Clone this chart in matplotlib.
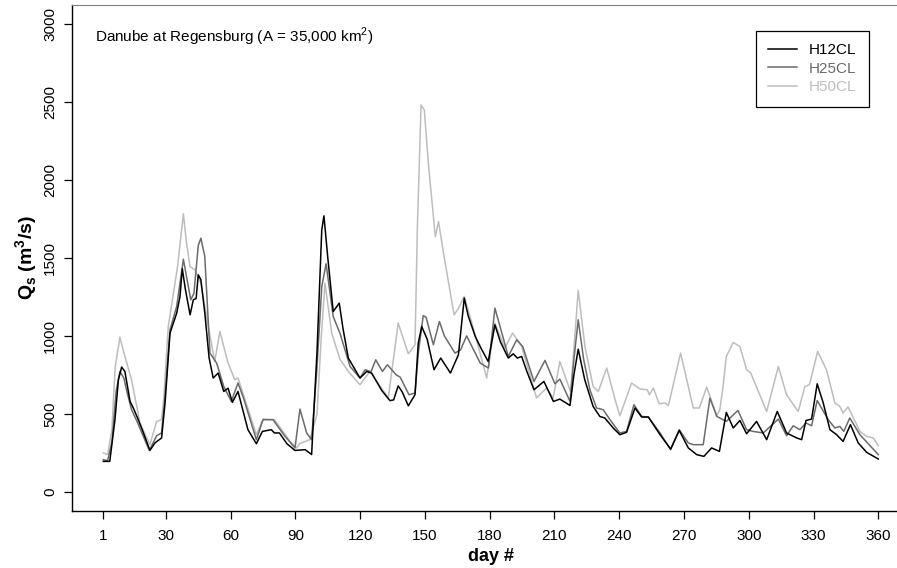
"""
Daily discharge at Danube / Regensburg for three model runs.
"""

import matplotlib

matplotlib.use("Agg")
import matplotlib.pyplot as plt

# -----------------------------
# Data
# -----------------------------
h12_day = [1, 4, 6.4, 8, 9.5, 11, 13.4, 14.9, 17, 19, 22.6, 24.9, 28, 29.6, 31.9, 35, 36.5,
           37.6, 39, 41.2, 42.7, 44, 45, 46.2, 48, 50, 51.9, 54.2, 56.8, 58.8, 60.8, 63.4, 68,
           71.9, 74.7, 78.8, 80.3, 82.6, 86, 89.8, 94.5, 97.5, 100, 102.2, 103.2, 105, 107.5,
           110.3, 112, 114.5, 119.9, 123, 125.3, 130, 133.8, 135.5, 137.6, 139.5, 142.3, 145.4,
           146.9, 148.5, 151, 154.2, 157.3, 161.8, 165.5, 168.2, 170, 173.3, 176, 179.3, 182.4,
           185, 188.6, 190.9, 192.8, 194.8, 197, 200.5, 205.1, 209.5, 212.5, 217.2, 219, 221, 224,
           227.9, 231, 233.3, 237.2, 240.3, 243.4, 247.3, 250.4, 253.5, 258.9, 263.8, 267.8, 272,
           275.9, 279.2, 282.8, 286.4, 289.6, 292.8, 295.9, 299, 303.6, 308.3, 313.2, 317.5, 322.2,
           324.5, 326.5, 329.1, 331.7, 334.5, 337.6, 340.7, 343.7, 347.1, 350.7, 354.6, 360]
h12_q = [196, 196, 463, 719, 800, 772, 580, 538, 470, 400, 266, 314, 346, 570, 1018, 1146, 1250,
         1430, 1300, 1135, 1231, 1240, 1391, 1360, 1150, 860, 730, 762, 644, 665, 574, 644, 399,
         309, 388, 399, 378, 378, 310, 266, 271, 240, 900, 1679, 1769, 1500, 1156, 1210, 1050,
         858, 730, 772, 762, 650, 585, 590, 680, 640, 552, 623, 954, 1060, 980, 783, 858, 762, 879,
         1242, 1130, 996, 920, 836, 1071, 960, 858, 885, 858, 868, 780, 655, 708, 580, 595, 554,
         750, 915, 720, 548, 484, 474, 410, 367, 382, 538, 480, 480, 367, 275, 394, 282, 239, 228,
         282, 260, 510, 410, 458, 373, 452, 335, 516, 378, 346, 335, 458, 467, 693, 570, 399, 367,
         324, 431, 314, 254, 211]

h25_day = [1, 3, 5, 7, 8.7, 10.5, 12, 14.1, 17, 22.3, 25.7, 28, 29.5, 31.9, 35, 38.1, 41.5, 43,
           45, 46.2, 48, 50.4, 53.5, 56.8, 60.3, 63.4, 66, 71.9, 75, 79.6, 85, 89.8, 92.1, 95.2,
           97.5, 100, 102.2, 104.2, 107.5, 110.6, 115.3, 119.9, 122.3, 125, 127.2, 130.3, 132.6,
           136.6, 138.5, 142.6, 145.4, 147, 149.2, 150.5, 153.9, 156.7, 159, 163.9, 166.5, 169.3,
           175.6, 179.4, 182.4, 185, 188.6, 192.5, 195.3, 200.5, 205.6, 210.2, 212.5, 217.2, 219,
           221, 223.5, 226.4, 229.5, 232.6, 235.7, 240.3, 243.4, 246.8, 250.4, 253.5, 258.9,
           263.8, 267.8, 272, 274.3, 278.9, 282, 285.2, 289.6, 295, 299, 302, 306.7, 313.7, 317.5,
           320.6, 323.7, 326.5, 329.1, 331.7, 336.8, 339.9, 342.2, 344, 346.8, 351.5, 360]
h25_q = [207, 200, 320, 650, 772, 730, 640, 527, 440, 266, 360, 378, 600, 1039, 1189, 1491, 1231,
         1274, 1580, 1626, 1510, 890, 826, 676, 580, 698, 600, 335, 463, 463, 360, 282, 531, 378,
         335, 800, 1316, 1462, 1124, 1018, 804, 730, 783, 770, 847, 772, 815, 751, 736, 623, 634,
         900, 1130, 1120, 943, 1092, 1000, 890, 910, 1000, 826, 794, 1178, 1050, 868, 975, 932,
         708, 843, 693, 723, 580, 850, 1103, 850, 655, 538, 527, 463, 378, 388, 559, 484, 480, 378,
         271, 399, 314, 303, 303, 601, 484, 452, 522, 399, 388, 378, 467, 360, 424, 399, 442, 424,
         586, 463, 410, 420, 388, 474, 367, 239]

h50_day = [1, 3, 5, 6.5, 8.7, 10, 11.9, 14.1, 18, 22.6, 25.7, 28, 29, 31.1, 35.4, 38.1, 39.5,
           41.2, 43.5, 46.2, 48.8, 52.6, 55, 58.8, 61.9, 63.4, 66, 71.9, 75, 80.3, 87.5, 90.6, 92,
           96.7, 100, 102, 103.7, 106.8, 110.6, 114.5, 119.9, 124.5, 133, 137.6, 142.3, 145.4,
           146.5, 148.2, 149.7, 151.7, 154.8, 156.3, 158.6, 163.5, 165.6, 168.2, 172.4, 178.6,
           182.4, 187, 190.6, 194.8, 201.7, 206.3, 209.4, 212.5, 217.5, 221, 224.1, 227.9, 230.3,
           234.2, 238.1, 240.3, 245.7, 249.6, 253, 254, 255.8, 258.5, 261.3, 262.8, 268.4, 274.3,
           277.1, 280.5, 285.2, 286.6, 288.1, 289.6, 292.8, 295.9, 299, 300.9, 308.3, 313.7, 317.5,
           322.9, 326, 328.1, 331.9, 336, 339.9, 342.2, 343.7, 346, 351.5, 354.6, 357.7, 360]
h50_q = [250, 240, 400, 800, 992, 920, 826, 719, 440, 303, 452, 463, 600, 1060, 1444, 1782, 1600,
         1444, 1423, 1338, 1124, 836, 1028, 826, 719, 730, 620, 367, 467, 463, 324, 282, 310, 335,
         500, 1000, 1338, 1018, 851, 772, 687, 772, 602, 1082, 885, 943, 1700, 2480, 2447, 2085,
         1636, 1732, 1530, 1135, 1178, 1253, 1050, 730, 1082, 922, 1018, 932, 602, 666, 602, 836,
         640, 1291, 932, 676, 644, 794, 591, 488, 698, 660, 655, 623, 666, 565, 570, 554, 890, 538,
         538, 672, 488, 527, 676, 868, 958, 932, 783, 762, 516, 804, 623, 516, 676, 687, 900, 783,
         570, 548, 506, 545, 388, 356, 346, 296]

series_names = ["H12CL", "H25CL", "H50CL"]
series_colors = ["#000000", "#6b6b6b", "#bdbdbd"]
x_ticks = [1, 30, 60, 90, 120, 150, 180, 210, 240, 270, 300, 330, 360]
y_ticks = [0, 500, 1000, 1500, 2000, 2500, 3000]


def main() -> None:
    plt.rcParams["font.family"] = ["Liberation Sans", "DejaVu Sans"]
    plt.rcParams["mathtext.fontset"] = "custom"
    plt.rcParams["mathtext.rm"] = "Liberation Sans"
    plt.rcParams["mathtext.bf"] = "Liberation Sans:bold"

    fig = plt.figure(figsize=(8.97, 5.68), dpi=100)
    # axes runs past the right edge, as in the original crop
    ax = fig.add_axes([0.0806, 0.1009, 0.9331, 0.8903])

    data = [(h12_day, h12_q), (h25_day, h25_q), (h50_day, h50_q)]
    handles = []
    for i in [2, 1, 0]:
        days, q = data[i]
        (ln,) = ax.plot(days, q, color=series_colors[i], lw=1.1, zorder=3 - i,
                        solid_joinstyle="round")
        handles.insert(0, ln)

    ax.set_xlim(-13.36, 374.36)
    ax.set_ylim(-120, 3120)
    ax.set_xticks(x_ticks)
    ax.set_yticks(y_ticks)
    ax.set_yticklabels([str(v) for v in y_ticks], rotation=90, va="center")
    ax.tick_params(axis="both", length=6, width=0.9, labelsize=11, direction="out")
    ax.tick_params(axis="x", pad=7)
    ax.tick_params(axis="y", pad=5)

    ax.spines["right"].set_visible(False)
    ax.spines["top"].set_color("#808080")
    for s in ["left", "bottom"]:
        ax.spines[s].set_linewidth(1.0)

    ax.set_xlabel("day #", fontsize=13, fontweight="bold", labelpad=4)
    ax.set_ylabel(r"Q$_\mathbf{s}$ (m$^\mathbf{3}$/s)", fontsize=14, fontweight="bold",
                  labelpad=2)

    fig.text(95 / 897, 1 - 37 / 568, r"Danube at Regensburg (A = 35,000 km$^2$)",
             fontsize=11, va="center", ha="left")

    leg = ax.legend(handles, series_names, loc="upper left",
                    bbox_to_anchor=(755.7 / 897, 1 - 31 / 568),
                    bbox_transform=fig.transFigure, borderaxespad=0,
                    fancybox=False, framealpha=1, edgecolor="black",
                    fontsize=11, handlelength=1.9, handletextpad=0.8,
                    labelspacing=0.3, borderpad=0.8)
    leg.get_frame().set_linewidth(0.9)
    for txt, c in zip(leg.get_texts(), series_colors):
        txt.set_color(c)

    fig.savefig("out.png", dpi=100)


if __name__ == "__main__":
    main()
